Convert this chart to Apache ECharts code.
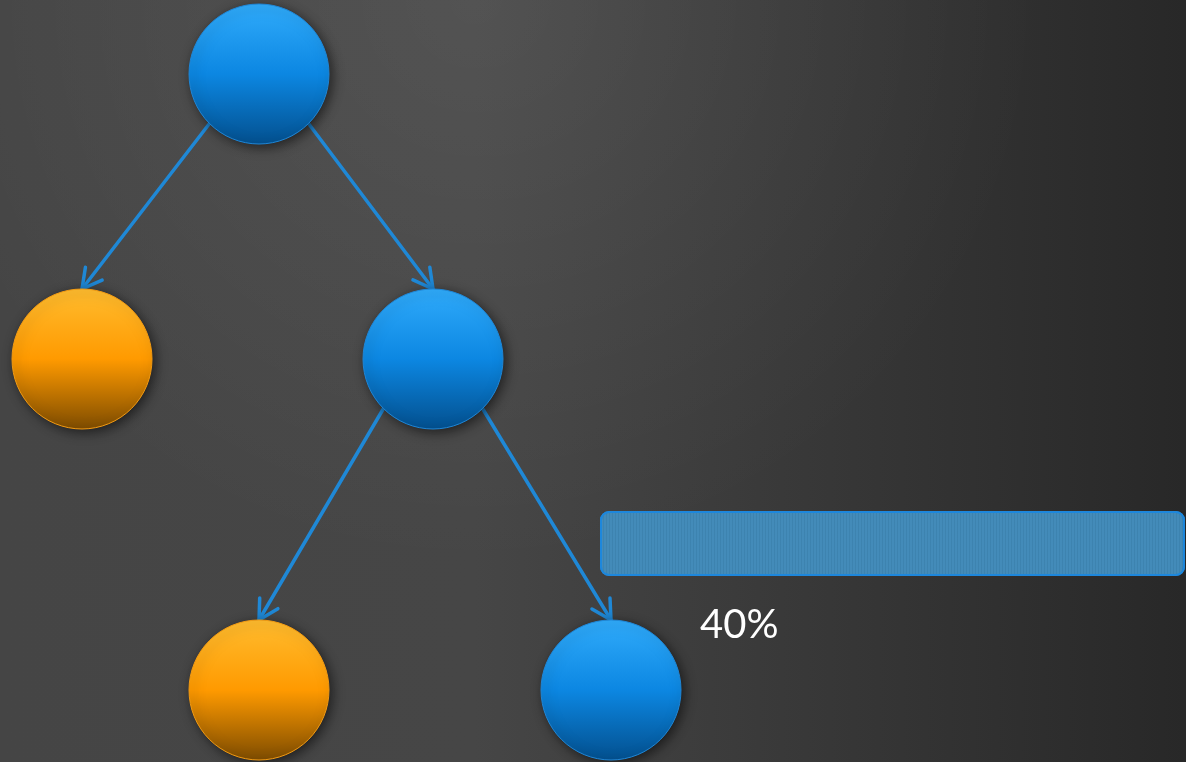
<!DOCTYPE html>
<html>
<head>
<meta charset="utf-8">
<style>
  html, body { margin: 0; padding: 0; background: #333; }
  #main { width: 1186px; height: 762px; }
</style>
<script src="https://cdn.jsdelivr.net/npm/echarts@6/dist/echarts.min.js"></script>
</head>
<body>
<div id="main"></div>
<script>
// tree nodes (position, plot units)
var nodeNames = ['root', 'left', 'mid', 'leafA', 'leafB'];
var nodeX = [259, 82, 433, 259, 611];
var nodeY = [74, 359, 359, 690, 690];
var nodeKind = ['blue', 'orange', 'blue', 'orange', 'blue'];
// links: [source, target]
var links = [[0, 1], [0, 2], [2, 3], [2, 4]];
// progress bar
var barCats = ['progress'];
var barValues = [100];
var barText = '40%';

var R = 70;

var kindFill = {
	blue: [['#30abfb', 0], ['#0c87e2', 0.5], ['#03508f', 1]],
	orange: [['#ffbc2f', 0], ['#ff9a00', 0.5], ['#7e4c00', 1]]
};
var kindStroke = { blue: '#1f86d6', orange: '#f29a12' };

var myChart = echarts.init(document.getElementById('main'));

var nodeData = nodeNames.map(function (n, i) {
	return { name: n, value: [nodeX[i], nodeY[i]], kind: nodeKind[i] };
});
var linkData = links.map(function (l) {
	return [nodeX[l[0]], nodeY[l[0]], nodeX[l[1]], nodeY[l[1]]];
});

function rot(v, a) {
	return [v[0] * Math.cos(a) - v[1] * Math.sin(a), v[0] * Math.sin(a) + v[1] * Math.cos(a)];
}

var option = {
	animation: false,
	graphic: [{
		type: 'rect', silent: true, z: -10,
		shape: { x: 0, y: 0, width: 1186, height: 762 },
		style: {
			fill: new echarts.graphic.LinearGradient(0, 0, 1, 0, [
				{ offset: 0, color: '#454545' },
				{ offset: 0.4, color: '#464646' },
				{ offset: 1, color: '#282828' }
			])
		}
	}, {
		type: 'rect', silent: true, z: -9,
		shape: { x: 0, y: 0, width: 1186, height: 762 },
		style: {
			fill: new echarts.graphic.RadialGradient(0.4, 0, 0.75, [
				{ offset: 0, color: 'rgba(255,255,255,0.07)' },
				{ offset: 1, color: 'rgba(255,255,255,0)' }
			])
		}
	}],
	grid: [
		{ left: 0, right: 0, top: 0, bottom: 0 },
		{ left: 600, right: 1, top: 511, height: 65 }
	],
	xAxis: [
		{ type: 'value', min: 0, max: 1186, show: false, gridIndex: 0 },
		{ type: 'value', min: 0, max: 100, show: false, gridIndex: 1 }
	],
	yAxis: [
		{ type: 'value', min: 0, max: 762, inverse: true, show: false, gridIndex: 0 },
		{ type: 'category', data: barCats, show: false, gridIndex: 1 }
	],
	series: [{
		// links
		type: 'custom',
		xAxisIndex: 0, yAxisIndex: 0,
		z: 1,
		data: linkData,
		encode: { x: [0, 2], y: [1, 3] },
		renderItem: function (params, api) {
			var s = api.coord([api.value(0), api.value(1)]);
			var t = api.coord([api.value(2), api.value(3)]);
			var side = t[0] < s[0] ? -1 : 1;
			var start = [s[0] + side * R * Math.SQRT1_2, s[1] + R * Math.SQRT1_2];
			var end = [t[0], t[1] - R];
			var dx = end[0] - start[0], dy = end[1] - start[1];
			var len = Math.sqrt(dx * dx + dy * dy);
			var back = [-dx / len * 22, -dy / len * 22];
			var a1 = rot(back, 0.5), a2 = rot(back, -0.5);
			var st = { stroke: '#1f88d6', lineWidth: 3.5, fill: null, lineCap: 'round', lineJoin: 'round' };
			return {
				type: 'group',
				children: [{
					type: 'line',
					shape: { x1: start[0], y1: start[1], x2: end[0], y2: end[1] },
					style: st
				}, {
					type: 'polyline',
					shape: { points: [[end[0] + a1[0], end[1] + a1[1]], end, [end[0] + a2[0], end[1] + a2[1]]] },
					style: st
				}]
			};
		}
	}, {
		// nodes
		type: 'custom',
		xAxisIndex: 0, yAxisIndex: 0,
		z: 3,
		data: nodeData,
		renderItem: function (params, api) {
			var c = api.coord([api.value(0), api.value(1)]);
			var kind = nodeData[params.dataIndex].kind;
			var stops = kindFill[kind].map(function (s) {
				return { offset: s[1], color: s[0] };
			});
			return {
				type: 'circle',
				shape: { cx: c[0], cy: c[1], r: R },
				style: {
					fill: new echarts.graphic.LinearGradient(0, 0, 0, 1, stops),
					stroke: kindStroke[kind],
					lineWidth: 1,
					shadowBlur: 12,
					shadowOffsetX: 3,
					shadowOffsetY: 3,
					shadowColor: 'rgba(0,0,0,0.55)'
				}
			};
		}
	}, {
		type: 'bar',
		xAxisIndex: 1, yAxisIndex: 1,
		data: barValues,
		barWidth: '100%',
		itemStyle: {
			color: '#438bb9',
			borderColor: '#1d87dc',
			borderWidth: 2,
			borderRadius: 8,
			decal: {
				symbol: 'rect',
				symbolSize: 1,
				color: 'rgba(20,70,110,0.12)',
				dashArrayX: [1, 2],
				dashArrayY: [4, 0],
				rotation: 0
			}
		},
		label: {
			show: true,
			position: [100, 114],
			align: 'left',
			verticalAlign: 'middle',
			formatter: function () { return barText; },
			color: '#ffffff',
			fontFamily: 'Lato',
			fontSize: 40
		}
	}]
};
myChart.setOption(option);
</script>
</body>
</html>
